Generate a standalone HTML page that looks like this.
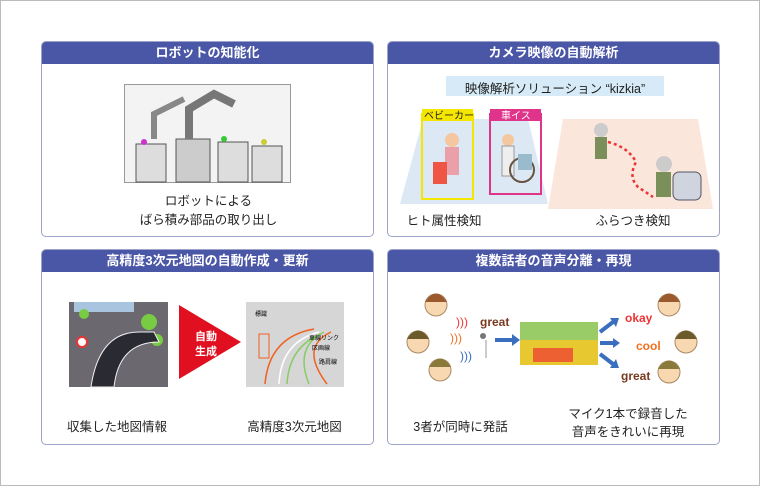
<!DOCTYPE html>
<html><head><meta charset="utf-8"><style>
*{margin:0;padding:0;box-sizing:border-box}
body{width:760px;height:486px;background:#fff;position:relative;overflow:hidden;font-family:"Liberation Sans","Noto Sans CJK JP",sans-serif;color:#222}
.frame{position:absolute;left:0;top:0;width:760px;height:486px;border:1px solid #bbb}
.p{position:absolute;width:333px;height:196px;border:1.5px solid #9da3c9;border-radius:5px;overflow:hidden;background:#fff}
.h{height:22px;background:#4a56a6;color:#fff;font-weight:bold;font-size:13px;text-align:center;line-height:22px}
.a{position:absolute}
.t{position:absolute;font-size:12.5px;text-align:center;white-space:nowrap}
</style></head><body>
<div class="frame"></div>

<div class="p" style="left:41px;top:41px">
<div class="h">ロボットの知能化</div>
<div class="a" style="left:82px;top:42px;width:167px;height:99px;background:#f3f3f3;border:1px solid #999"></div>
<svg class="a" style="left:82px;top:42px" width="167" height="99">
<rect x="12" y="60" width="30" height="38" fill="#ddd" stroke="#555"/>
<rect x="52" y="55" width="34" height="43" fill="#ccc" stroke="#555"/>
<rect x="94" y="58" width="30" height="40" fill="#ddd" stroke="#555"/>
<rect x="128" y="62" width="30" height="36" fill="#ddd" stroke="#555"/>
<path d="M65 55 L65 25 L90 10 L110 20" stroke="#777" stroke-width="8" fill="none"/>
<path d="M30 55 L30 30 L60 15" stroke="#888" stroke-width="6" fill="none"/>
<circle cx="20" cy="58" r="3" fill="#c3c"/><circle cx="100" cy="55" r="3" fill="#3c3"/><circle cx="140" cy="58" r="3" fill="#cc3"/>
</svg>
<div class="t" style="left:0;width:333px;top:148px">ロボットによる</div>
<div class="t" style="left:0;width:333px;top:167px">ばら積み部品の取り出し</div>
</div>

<div class="p" style="left:387px;top:41px">
<div class="h">カメラ映像の自動解析</div>
<div class="a" style="left:58px;top:34px;width:218px;height:20px;background:#d6ebf7"></div>
<div class="t" style="left:58px;width:218px;top:36px">映像解析ソリューション “kizkia”</div>
<svg class="a" style="left:0;top:60px" width="333" height="110">
<polygon points="35,17 140,17 160,102 12,102" fill="#dce8f4"/>
<polygon points="175,17 310,17 325,107 160,107" fill="#fbe6dc"/>
<rect x="34" y="12" width="51" height="85" fill="none" stroke="#f5e600" stroke-width="2"/>
<rect x="34" y="7" width="51" height="12" fill="#f5e600"/>
<text x="36" y="17" font-size="10" font-family="Liberation Sans,Noto Sans CJK JP,sans-serif" fill="#222">ベビーカー</text>
<rect x="102" y="12" width="51" height="80" fill="none" stroke="#e0338a" stroke-width="2"/>
<rect x="102" y="7" width="51" height="12" fill="#e0338a"/>
<text x="113" y="17" font-size="10" font-family="Liberation Sans,Noto Sans CJK JP,sans-serif" fill="#fff">車イス</text>
<circle cx="64" cy="38" r="7" fill="#f4c7a0"/><rect x="57" y="45" width="14" height="28" fill="#e9a0a8"/>
<rect x="45" y="60" width="14" height="22" fill="#e54"/>
<circle cx="120" cy="38" r="6" fill="#f4c7a0"/><rect x="114" y="44" width="12" height="30" fill="#eee" stroke="#999"/>
<circle cx="134" cy="68" r="12" fill="none" stroke="#654" stroke-width="2"/><rect x="130" y="52" width="14" height="16" fill="#9bc"/>
<circle cx="213" cy="28" r="7" fill="#ccc"/><rect x="207" y="35" width="12" height="22" fill="#7a8f5a"/>
<path d="M220 40 Q240 45 248 60 Q240 75 250 85 L265 95" stroke="#e33" stroke-width="2.5" stroke-dasharray="3,3" fill="none"/>
<circle cx="276" cy="62" r="8" fill="#ccc"/><rect x="268" y="70" width="15" height="25" fill="#7a8f5a"/>
<rect x="285" y="70" width="28" height="28" rx="6" fill="#cfd4de" stroke="#556"/>
</svg>
<div class="t" style="left:0;width:112px;top:168px">ヒト属性検知</div>
<div class="t" style="left:190px;width:110px;top:168px">ふらつき検知</div>
</div>

<div class="p" style="left:41px;top:249px">
<div class="h">高精度3次元地図の自動作成・更新</div>
<svg class="a" style="left:27px;top:52px" width="280" height="88">
<rect x="0" y="0" width="99" height="85" fill="#6b6870"/>
<rect x="5" y="0" width="60" height="10" fill="#a9c4de"/>
<circle cx="15" cy="12" r="5" fill="#7c4"/><circle cx="80" cy="20" r="8" fill="#7c4"/><circle cx="88" cy="38" r="6" fill="#7c4"/>
<path d="M22 85 Q30 30 70 30 L85 30 L90 40 Q50 40 45 85 Z" fill="#2a2a33" stroke="#eee"/>
<circle cx="13" cy="40" r="5" fill="#fff" stroke="#e33" stroke-width="2"/>
<polygon points="110,3 172,40 110,77" fill="#e01020"/>
<text x="126" y="38" fill="#fff" font-size="11" font-weight="bold" font-family="Liberation Sans,Noto Sans CJK JP,sans-serif">自動</text>
<text x="126" y="53" fill="#fff" font-size="11" font-weight="bold" font-family="Liberation Sans,Noto Sans CJK JP,sans-serif">生成</text>
<rect x="177" y="0" width="98" height="85" fill="#d6d6d6"/>
<path d="M196 82 Q200 35 245 27" stroke="#f06020" stroke-width="1.5" fill="none"/>
<path d="M210 82 Q212 40 250 30" stroke="#fff" stroke-width="1.5" fill="none"/>
<path d="M218 82 Q220 45 252 32" stroke="#8c6" stroke-width="1.5" fill="none"/>
<path d="M240 82 Q225 45 255 30" stroke="#8c6" stroke-width="1.5" fill="none"/>
<path d="M258 82 Q230 45 262 30" stroke="#f06020" stroke-width="1.5" fill="none"/>
<rect x="190" y="32" width="10" height="24" fill="none" stroke="#f06020"/>
<text x="186" y="14" font-size="6" font-family="Liberation Sans,Noto Sans CJK JP,sans-serif">標識</text>
<text x="240" y="38" font-size="6" font-family="Liberation Sans,Noto Sans CJK JP,sans-serif">車線リンク</text>
<text x="243" y="48" font-size="6" font-family="Liberation Sans,Noto Sans CJK JP,sans-serif">区画線</text>
<text x="250" y="62" font-size="6" font-family="Liberation Sans,Noto Sans CJK JP,sans-serif">路肩線</text>
</svg>
<div class="t" style="left:0;width:150px;top:166px">収集した地図情報</div>
<div class="t" style="left:180px;width:145px;top:166px">高精度3次元地図</div>
</div>

<div class="p" style="left:387px;top:249px">
<div class="h">複数話者の音声分離・再現</div>
<svg class="a" style="left:0;top:30px" width="333" height="120">
<g fill="#f8d8b0" stroke="#a86"><circle cx="48" cy="25" r="11"/><circle cx="30" cy="62" r="11"/><circle cx="52" cy="90" r="11"/>
<circle cx="281" cy="25" r="11"/><circle cx="298" cy="62" r="11"/><circle cx="281" cy="92" r="11"/></g>
<g fill="#9b5a2e"><path d="M37 22 Q48 5 59 22 Z"/><path d="M270 22 Q281 5 292 22 Z"/></g>
<g fill="#6b5a2a"><path d="M19 59 Q30 42 41 59 Z"/><path d="M287 59 Q298 42 309 59 Z"/></g>
<g fill="#8a7a3a"><path d="M41 87 Q52 70 63 87 Z"/><path d="M270 89 Q281 72 292 89 Z"/></g>
<text x="68" y="46" fill="#e33" font-size="12">)))</text><text x="62" y="62" fill="#f07020" font-size="12">)))</text>
<text x="72" y="80" fill="#3a6fc0" font-size="12">)))</text>
<text x="92" y="46" fill="#7a3a20" font-size="12" font-weight="bold">great</text>
<line x1="98" y1="60" x2="98" y2="78" stroke="#999"/><circle cx="95" cy="56" r="3" fill="#777"/>
<path d="M107 60 L124 60" stroke="#3a6fc0" stroke-width="4"/><polygon points="124,54 132,60 124,66" fill="#3a6fc0"/>
<rect x="132" y="42" width="78" height="43" fill="#e8c830"/>
<rect x="132" y="42" width="78" height="18" fill="#9c6"/><rect x="145" y="68" width="40" height="14" fill="#e33" opacity=".7"/>
<path d="M212 52 L225 42" stroke="#3a6fc0" stroke-width="4"/><path d="M212 63 L225 63" stroke="#3a6fc0" stroke-width="4"/><path d="M212 74 L225 84" stroke="#3a6fc0" stroke-width="4"/>
<polygon points="222,38 231,38 228,47" fill="#3a6fc0"/><polygon points="225,58 232,63 225,68" fill="#3a6fc0"/><polygon points="222,88 231,88 228,79" fill="#3a6fc0"/>
<text x="237" y="42" fill="#e33" font-size="12" font-weight="bold">okay</text>
<text x="248" y="70" fill="#f07020" font-size="12" font-weight="bold">cool</text>
<text x="233" y="100" fill="#7a3a20" font-size="12" font-weight="bold">great</text>
</svg>
<div class="t" style="left:0;width:145px;top:166px">3者が同時に発話</div>
<div class="t" style="left:170px;width:140px;top:153px">マイク1本で録音した</div>
<div class="t" style="left:170px;width:140px;top:171px">音声をきれいに再現</div>
</div>
</body></html>
